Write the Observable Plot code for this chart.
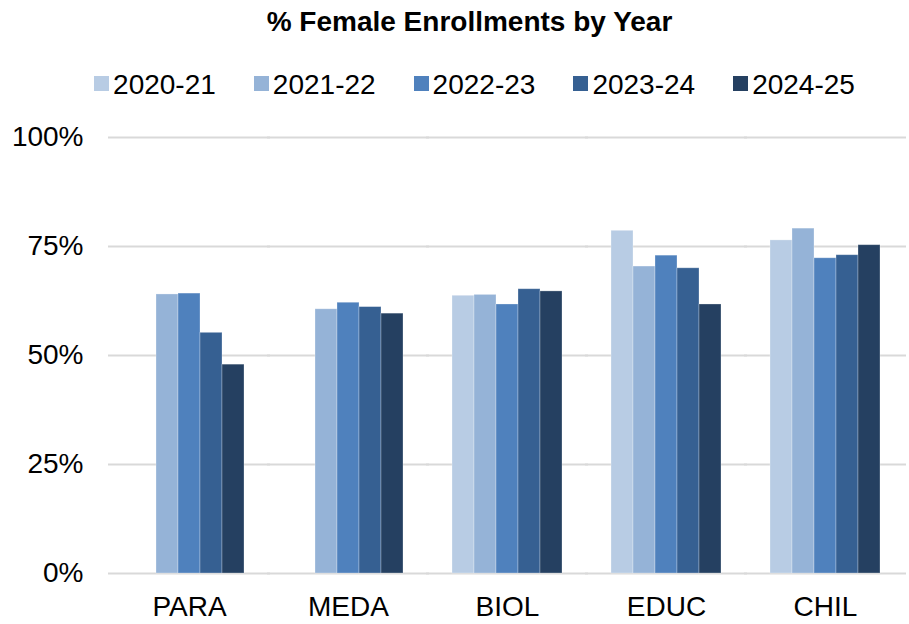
<!DOCTYPE html>
<html>
<head>
<meta charset="utf-8">
<script src="https://cdn.jsdelivr.net/npm/d3@7"></script>
<script src="https://cdn.jsdelivr.net/npm/@observablehq/plot@0.6"></script>
<style>
  html, body { margin: 0; padding: 0; background: #fff; }
  body { width: 909px; height: 624px; overflow: hidden; font-family: "Liberation Sans", Arial, sans-serif; }
  #title { height: 44px; line-height: 44px; font-size: 28px; font-weight: bold; text-align: center; color: #000; padding-left: 30px; white-space: nowrap; }
  #legend { height: 40px; line-height: 40px; padding-top: 21px; display: flex; justify-content: center; padding-left: 40px; font-size: 28px; color: #000; white-space: nowrap; }
  .item { display: flex; align-items: center; margin: 0 19px; }
  .sw { width: 15px; height: 15px; margin-right: 4px; margin-top: -3px; }
</style>
</head>
<body>
<div id="title">% Female Enrollments by Year</div>
<div id="legend"></div>
<div id="chart"></div>
<script>
const categories = ["PARA", "MEDA", "BIOL", "EDUC", "CHIL"];
const years = ["2020-21", "2021-22", "2022-23", "2023-24", "2024-25"];
const colors = ["#b8cce4", "#95b3d7", "#4f81bd", "#366092", "#254061"];
const v2020_21 = [null, null, 63.7, 78.6, 76.4];
const v2021_22 = [64.0, 60.6, 63.9, 70.4, 79.1];
const v2022_23 = [64.2, 62.1, 61.7, 72.9, 72.3];
const v2023_24 = [55.2, 61.1, 65.2, 70.0, 73.0];
const v2024_25 = [47.9, 59.6, 64.7, 61.7, 75.3];
const yTicks = [0, 25, 50, 75, 100];

const series = [v2020_21, v2021_22, v2022_23, v2023_24, v2024_25];
const data = [];
categories.forEach((c, i) => {
  years.forEach((yr, j) => {
    const v = series[j][i];
    if (v != null) data.push({category: c, year: yr, value: v});
  });
});

const legend = document.getElementById("legend");
years.forEach((yr, j) => {
  const it = document.createElement("div");
  it.className = "item";
  const sw = document.createElement("span");
  sw.className = "sw";
  sw.style.background = colors[j];
  const t = document.createElement("span");
  t.textContent = yr;
  it.appendChild(sw); it.appendChild(t);
  legend.appendChild(it);
});

const chart = Plot.plot({
  width: 909,
  height: 519,
  marginLeft: 108,
  marginRight: 3,
  marginTop: 32,
  marginBottom: 51,
  style: {fontFamily: "'Liberation Sans', Arial, sans-serif", fontSize: "28px", color: "#000", background: "#fff"},
  fx: {domain: categories, paddingInner: 0.31, paddingOuter: 0.155, label: null, axis: null},
  x: {domain: years, padding: 0, axis: null},
  y: {domain: [0, 100], label: null, axis: null},
  color: {domain: years, range: colors},
  marks: [
    Plot.ruleY(yTicks, {y: d => d, stroke: "#d9d9d9", strokeWidth: 2, insetLeft: -26, insetRight: -26}),
    Plot.barY(data, {fx: "category", x: "year", y: "value", fill: "year", stroke: "#ffffff", strokeOpacity: 0.35, strokeWidth: 0.8}),
    Plot.axisY(yTicks, {anchor: "left", tickSize: 0, tickPadding: 0, dx: -51, tickFormat: d => d + "%", fontSize: 28, fill: "#000", label: null}),
    Plot.axisFx({anchor: "bottom", tickSize: 0, tickPadding: 0, dy: 23, fontSize: 28, fill: "#000", label: null})
  ]
});
document.getElementById("chart").appendChild(chart);
</script>
</body>
</html>
